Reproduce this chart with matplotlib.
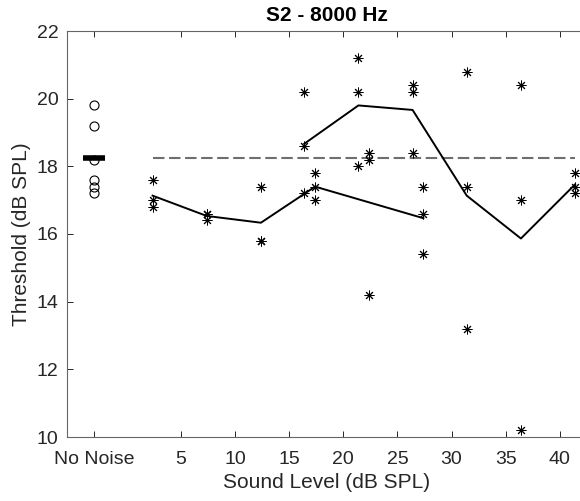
import matplotlib
matplotlib.use("Agg")
import matplotlib.pyplot as plt
import numpy as np

plt.rcParams['font.family'] = ['Liberation Sans', 'DejaVu Sans']

# No-noise thresholds
no_noise_x = -3
no_noise_vals = [19.8, 19.2, 18.2, 17.6, 17.4, 17.2]

# Series A (lower curve)
a_levels = [2.4, 7.4, 12.4, 17.4, 22.4, 27.4]
a_vals = [
    [17.6, 17.0, 16.8],
    [16.6, 16.6, 16.4],
    [17.4, 15.8, 15.8],
    [17.8, 17.4, 17.0],
    [18.4, 18.2, 14.2],
    [17.4, 16.6, 15.4],
]

# Series B (upper curve)
b_levels = [16.4, 21.4, 26.4, 31.4, 36.4, 41.4]
b_vals = [
    [20.2, 18.6, 17.2],
    [21.2, 20.2, 18.0],
    [20.4, 20.2, 18.4],
    [20.8, 17.4, 13.2],
    [20.4, 17.0, 10.2],
    [17.8, 17.4, 17.2],
]

xtick_vals = [-3, 5, 10, 15, 20, 25, 30, 35, 40]
xtick_labels = ['No Noise', '5', '10', '15', '20', '25', '30', '35', '40']
ytick_vals = [10, 12, 14, 16, 18, 20, 22]

fig = plt.figure(figsize=(5.80, 5.01), dpi=100)
ax = fig.add_axes([67/580, 64/501, 520/580, 406/501])

ast = (8, 2, 0)

# no-noise circles and mean bar
nn_mean = np.mean(no_noise_vals)
ax.plot([no_noise_x]*len(no_noise_vals), no_noise_vals, linestyle='none',
        marker='o', markersize=6.5, markerfacecolor='none',
        markeredgecolor='black', markeredgewidth=0.8, zorder=3)
ax.plot([no_noise_x - 1, no_noise_x + 1], [nn_mean, nn_mean], color='black',
        lw=4, solid_capstyle='butt', zorder=4)

# dashed reference line
all_levels = a_levels + b_levels
ax.plot([min(all_levels), max(all_levels)], [nn_mean, nn_mean],
        color='#6e6e6e', lw=1.5, dashes=(5.5, 2.2), zorder=2)

for levels, vals in [(a_levels, a_vals), (b_levels, b_vals)]:
    for x, vs in zip(levels, vals):
        ax.plot([x]*len(vs), vs, linestyle='none', marker=ast, markersize=7,
                markeredgecolor='black', markeredgewidth=0.7, zorder=3)
    means = [np.mean(v) for v in vals]
    ax.plot(levels, means, color='black', lw=1.4, zorder=2)

ax.set_xlim(-5.5, 42.5)
ax.set_ylim(10, 22)
ax.set_xticks(xtick_vals)
ax.set_xticklabels(xtick_labels)
ax.set_yticks(ytick_vals)

ax.tick_params(direction='in', length=4, width=0.7, colors='#262626',
               labelsize=14, top=True, right=True)
ax.tick_params(axis='x', pad=10)
ax.tick_params(axis='y', pad=6)
for s in ax.spines.values():
    s.set_color('#666666')
    s.set_linewidth(0.8)

ax.set_xlabel('Sound Level (dB SPL)', fontsize=15, color='#262626', labelpad=4)
ax.set_ylabel('Threshold (dB SPL)', fontsize=15, color='#262626', labelpad=4)
ax.set_title('S2 - 8000 Hz', fontsize=15, fontweight='bold', pad=7)

fig.savefig('out.png', dpi=100)
